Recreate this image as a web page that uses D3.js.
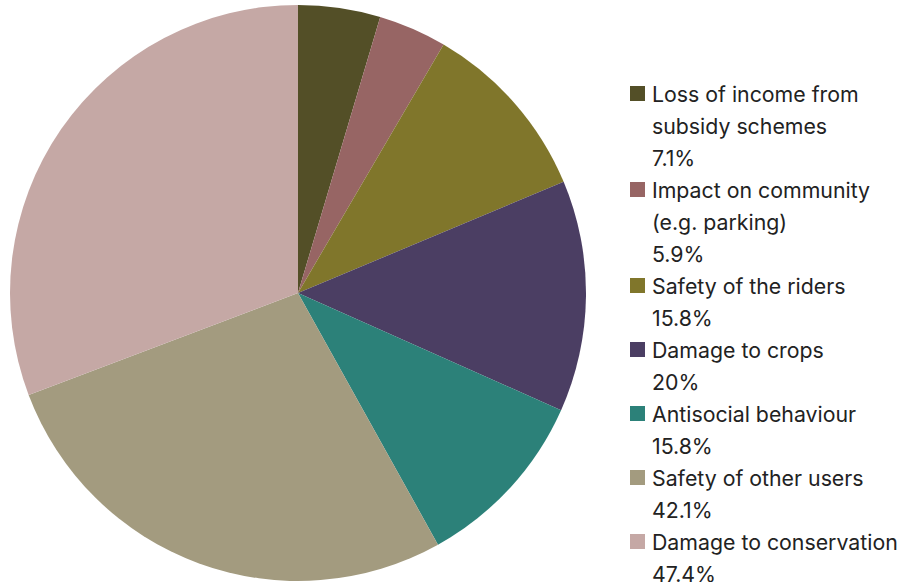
<!DOCTYPE html>
<html>
<head>
<meta charset="utf-8">
<script src="https://cdn.jsdelivr.net/npm/d3@7"></script>
<style>
  html, body { margin: 0; padding: 0; background: #fff; }
  svg { display: block; }
  text { font-family: Inter, "Noto Sans", sans-serif; fill: #222; }
</style>
</head>
<body>
<svg id="chart" width="916" height="582"></svg>
<script>
// Concerns raised, share of respondents (%)
const categories = [
  "Loss of income from subsidy schemes",
  "Impact on community (e.g. parking)",
  "Safety of the riders",
  "Damage to crops",
  "Antisocial behaviour",
  "Safety of other users",
  "Damage to conservation"
];
const values = [7.1, 5.9, 15.8, 20, 15.8, 42.1, 47.4];
const valueLabels = ["7.1%", "5.9%", "15.8%", "20%", "15.8%", "42.1%", "47.4%"];
// Legend label lines (wrapped)
const legendLines = [
  ["Loss of income from", "subsidy schemes"],
  ["Impact on community", "(e.g. parking)"],
  ["Safety of the riders"],
  ["Damage to crops"],
  ["Antisocial behaviour"],
  ["Safety of other users"],
  ["Damage to conservation"]
];
const colors = ["#534f27", "#976564", "#80762b", "#4b3e63", "#2c8179", "#a39b7f", "#c5a8a5"];

const svg = d3.select("#chart");
const cx = 298, cy = 293, radius = 288;

const color = d3.scaleOrdinal().domain(categories).range(colors);

const pie = d3.pie().sort(null).value(d => d.value);
const arc = d3.arc().innerRadius(0).outerRadius(radius);

const data = categories.map((c, i) => ({ name: c, value: values[i] }));

svg.append("g")
  .attr("transform", `translate(${cx},${cy})`)
  .selectAll("path")
  .data(pie(data))
  .join("path")
  .attr("d", arc)
  .attr("fill", d => color(d.data.name));

// Legend
const lineH = 32;
const legend = svg.append("g").attr("transform", "translate(630,94)");
let row = 0;
categories.forEach((c, i) => {
  const g = legend.append("g").attr("transform", `translate(0,${row * lineH})`);
  g.append("rect")
    .attr("x", 0).attr("y", -8)
    .attr("width", 15).attr("height", 15)
    .attr("fill", color(c));
  const lines = legendLines[i].concat([valueLabels[i]]);
  lines.forEach((t, j) => {
    g.append("text")
      .attr("x", 22)
      .attr("y", j * lineH + 7.5)
      .attr("font-size", 21.3)
      .text(t);
  });
  row += lines.length;
});
</script>
</body>
</html>
